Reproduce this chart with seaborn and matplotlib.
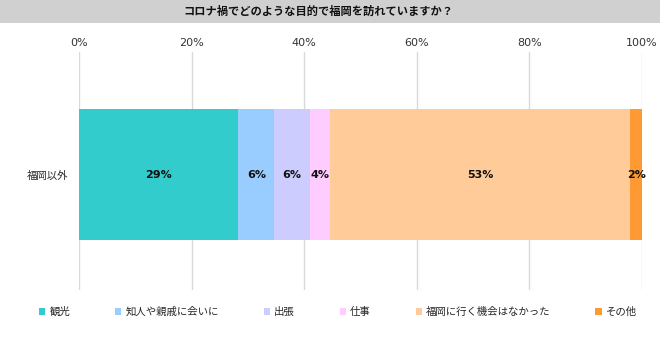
import matplotlib
matplotlib.use("Agg")
import matplotlib.pyplot as plt
from matplotlib.patches import Rectangle, Patch
import seaborn as sns
import numpy as np

categories = ["観光", "知人や親戚に会いに", "出張", "仕事", "福岡に行く機会はなかった", "その他"]
values = [28.3, 6.4, 6.3, 3.6, 53.3, 2.1]
labels = ["29%", "6%", "6%", "4%", "53%", "2%"]
colors = ["#33CCCC", "#99CCFF", "#CCCCFF", "#FFCCFF", "#FFCC99", "#FF9933"]
row = ["福岡以外"]
ticks = [0, 20, 40, 60, 80, 100]
tick_labels = ["0%", "20%", "40%", "60%", "80%", "100%"]
title = "コロナ禍でどのような目的で福岡を訪れていますか？"

sns.set_theme(style="white")
plt.rcParams['font.family'] = ['Noto Sans CJK JP', 'DejaVu Sans']

W, H = 660, 338
fig = plt.figure(figsize=(W / 100, H / 100), dpi=100)
ax = fig.add_axes([79 / W, 1 - 290 / H, (642 - 79) / W, (290 - 52) / H])

# title band
fig.patches.append(Rectangle((0, 1 - 23 / H), 1, 23 / H, transform=fig.transFigure,
                             facecolor="#D0D0D0", edgecolor="none", zorder=0))
fig.text(318 / W, 1 - 11.5 / H, title, ha="center", va="center", fontsize=8.1,
         fontweight="bold", color="#111111")

cum = np.cumsum(values)
for i in range(len(values) - 1, -1, -1):
    sns.barplot(x=[cum[i]], y=row, color=colors[i], orient="h", width=0.55,
                saturation=1, linewidth=0, ax=ax, zorder=2)

starts = cum - np.array(values)
for s, v, lab in zip(starts, values, labels):
    ax.text(s + v / 2, 0, lab, ha="center", va="center", fontsize=8,
            fontweight="bold", color="#111111", family="DejaVu Sans", zorder=3)

ax.set_xlim(0, 100)
ax.set_ylim(0.485, -0.515)
ax.set_xticks(ticks)
ax.set_xticklabels(tick_labels, fontsize=8, color="#333333", family="DejaVu Sans")
ax.xaxis.tick_top()
ax.tick_params(axis="x", length=0, pad=3)
ax.tick_params(axis="y", length=0, pad=8, labelsize=7.5)
ax.set_xlabel("")
ax.set_ylabel("")
ax.grid(axis="x", color="#D9D9D9", linewidth=1, zorder=0)
ax.set_axisbelow(True)
for sp in ax.spines.values():
    sp.set_visible(False)

handles = [Patch(facecolor=c, edgecolor="none") for c in colors]
fig.legend(handles, categories, loc="center", bbox_to_anchor=(338 / W, 1 - 312 / H),
           ncol=6, frameon=False, fontsize=7.5, handlelength=0.6, handleheight=0.6,
           handletextpad=0.4, columnspacing=4.3)

fig.savefig("out.png", dpi=100)
